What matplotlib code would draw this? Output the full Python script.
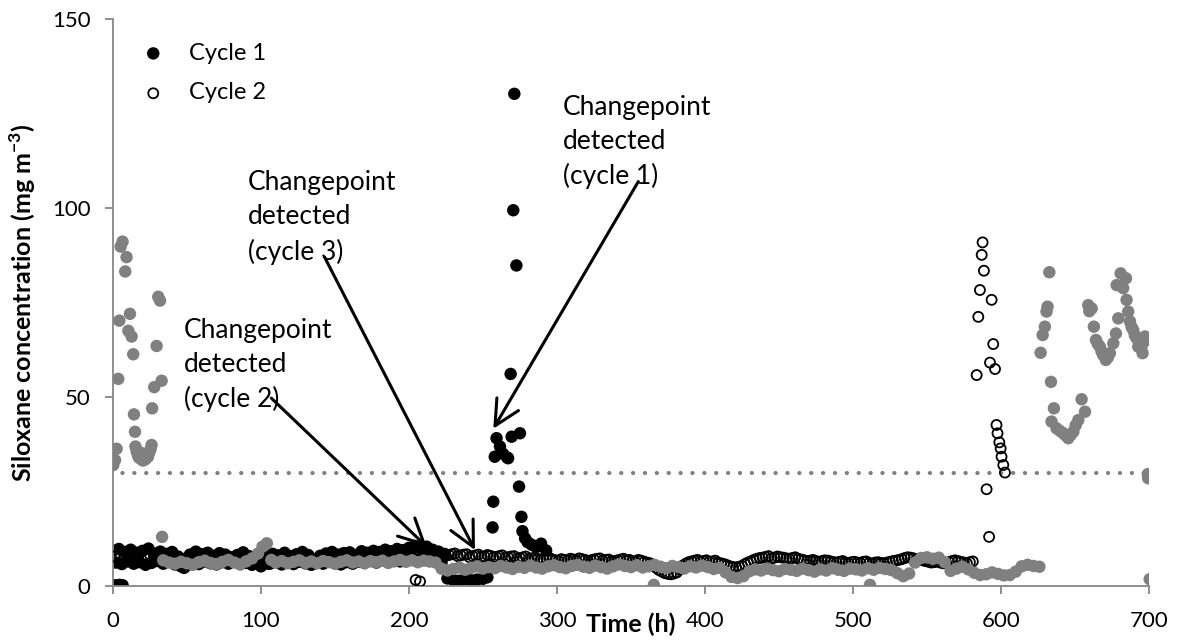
import numpy as np
import matplotlib
matplotlib.use("Agg")
import matplotlib.pyplot as plt

plt.rcParams['font.family'] = ['Lato', 'DejaVu Sans']

# ---- cycle 1 (filled black) ----
c1_t = [0.5, 2.5, 4.5, 6.5,
        0, 4, 8, 12, 16, 20, 24, 28, 32, 36, 40, 44, 48, 52, 56, 60, 64, 68, 72, 76,
        80, 84, 88, 92, 96, 100, 104, 108, 112, 116, 120, 124, 128, 132, 136, 140,
        144, 148, 152, 156, 160, 164, 168, 172, 176, 180, 184, 188, 192, 196, 200,
        204, 208, 212, 216, 220, 224,
        2, 6, 10, 14, 18, 22, 26, 30, 34, 38, 42, 46, 50, 54, 58, 62, 66, 70, 74,
        78, 82, 86, 90, 94, 98, 102, 106, 110, 114, 118, 122, 126, 130, 134, 138,
        142, 146, 150, 154, 158, 162, 166, 170, 174, 178, 182, 186, 190, 194, 198,
        202, 206, 210, 214, 218, 222,
        226, 230, 234, 238, 242, 246, 250, 253,
        256.5, 257.0, 258.0, 259.2, 261.5, 263.5, 266.4, 267.0, 269.4, 275.0,
        268.7, 270.5, 271.2, 272.6,
        274.4, 276.0, 276.7, 278.5, 280.2, 283.0, 285.9, 289.3, 292.7]
c1_y = [0.2, 0.1, 0.3, 0.2,
        9.4, 9.8, 9.0, 9.6, 8.8, 9.3, 9.9, 8.6, 9.1, 8.5, 9.0, 7.8, 4.8, 8.3, 9.1,
        8.4, 8.8, 8.0, 8.7, 8.3, 7.6, 8.2, 8.9, 7.9, 7.4, 5.2, 7.8, 8.5, 8.1, 8.8,
        7.9, 8.4, 9.0, 8.2, 6.0, 8.0, 8.6, 9.0, 8.3, 8.7, 8.9, 8.2, 9.2, 8.8, 9.3,
        9.0, 9.6, 9.2, 9.8, 9.5, 10.1, 10.6, 9.9, 10.4, 9.6, 9.1, 8.5,
        6.2, 5.8, 6.5, 5.9, 6.3, 5.6, 6.1, 6.6, 5.9, 6.4, 5.7, 5.2, 5.5, 6.2, 5.8,
        6.5, 6.0, 5.7, 6.3, 5.9, 6.4, 5.8, 6.1, 5.6, 6.0, 6.6, 5.9, 6.3, 5.7, 6.2,
        5.8, 6.4, 6.0, 5.6, 6.1, 5.9, 6.5, 6.0, 5.7, 6.3, 5.9, 6.4, 6.1, 6.6, 6.2,
        6.8, 6.4, 6.9, 6.5, 7.1, 7.4, 6.8, 7.2, 6.6, 6.9, 6.2,
        2.0, 1.6, 1.4, 1.8, 1.5, 1.7, 1.9, 2.3,
        15.5, 22.3, 34.2, 39.1, 36.9, 35.0, 34.0, 33.8, 39.5, 40.4,
        56.1, 99.4, 130.2, 84.8,
        26.3, 18.3, 14.5, 12.6, 11.6, 10.9, 10.3, 11.2, 9.4]

# ---- cycle 2 (open circles) ----
c2_t = [1, 5, 9, 13, 17, 21, 25, 29, 33, 37, 41, 45, 49, 53, 57, 61, 65, 69, 73,
        77, 81, 85, 89, 93, 97, 101, 105, 109, 113, 117, 121, 125, 129, 133, 137,
        141, 145, 149, 153, 157, 161, 165, 169, 173, 177, 181, 185, 189, 193, 197,
        201, 205, 209, 213, 217, 221, 225, 229, 233, 237, 241, 245, 249, 253, 257,
        261, 265, 269, 273, 277, 281, 285, 289, 293, 297, 301, 305, 309, 313, 317,
        321, 325, 329, 333, 337, 341, 345, 349, 353, 357, 361, 365, 369, 373, 377,
        381, 385, 389, 393, 397, 401, 405, 409, 413, 417, 421, 425, 429, 433, 437,
        441, 445, 449, 453, 457, 461, 465, 469, 473, 477, 481, 485, 489, 493, 497,
        501, 505, 509, 513, 517, 521, 525, 529, 533, 537, 541, 545, 549, 553, 557,
        561, 565, 569, 573, 577, 581,
        227, 231, 235, 239, 243, 247, 251, 255, 259, 263, 267, 271, 275, 279, 283,
        287, 291, 295, 299, 303, 307, 311, 315, 319, 323, 327, 331, 335, 339, 343,
        347, 351, 355, 359, 363, 367, 371, 375, 379, 383, 387, 391, 395, 399, 403,
        407, 411, 415, 419, 423, 427, 431, 435, 439, 443, 447, 451, 455, 459, 463,
        467, 471, 475, 479, 483, 487, 491, 495, 499, 503, 507, 511, 515, 519, 523,
        527, 531, 535, 539, 543, 547, 551, 555, 559, 563, 567, 571, 575, 579,
        204.5, 207.5,
        583.6, 584.7, 585.8, 587.0, 587.6, 588.5, 590.3, 592.0, 592.6, 593.7,
        594.8, 596.0, 597.0, 597.7, 598.9, 599.8, 600.4, 601.6, 602.7]
c2_y = [7.8, 8.2, 7.5, 8.0, 7.2, 7.9, 8.3, 7.6, 7.9, 7.4, 7.8, 6.9, 7.3, 7.7, 7.1,
        7.5, 7.0, 7.6, 7.2, 6.8, 7.4, 7.0, 7.5, 6.9, 7.3, 6.6, 5.8, 7.2, 7.6, 7.0,
        7.4, 6.8, 7.3, 7.7, 7.1, 7.5, 6.9, 7.4, 7.8, 7.2, 7.6, 7.0, 7.5, 7.9, 7.3,
        7.7, 7.2, 7.8, 8.1, 7.5, 7.9, 7.6, 8.3, 7.7, 8.2, 8.6, 8.0, 8.4, 7.9, 8.3,
        7.6, 8.1, 7.7, 8.2, 7.6, 7.9, 7.4, 7.8, 7.2, 7.6, 7.1, 7.5, 6.9, 7.3, 7.0,
        6.6, 6.9, 7.2, 6.8, 7.1, 6.6, 7.0, 7.3, 6.9, 6.5, 6.8, 7.2, 6.9, 6.4, 6.7,
        6.2, 5.6, 4.2, 3.4, 3.1, 3.6, 5.4, 6.3, 6.7, 6.4, 6.8, 6.5, 6.1, 5.8, 5.2,
        4.9, 5.3, 6.2, 6.9, 7.4, 7.7, 7.3, 7.8, 7.5, 7.2, 7.6, 7.0, 6.6, 6.9, 6.4,
        6.8, 6.5, 6.2, 6.6, 6.0, 6.4, 6.1, 6.5, 5.9, 6.3, 6.0, 6.4, 6.7, 7.1, 7.6,
        7.3, 6.9, 6.6, 6.2, 6.5, 6.0, 6.3, 6.8, 6.4, 6.0, 6.5,
        8.2, 8.6, 8.1, 8.4, 7.9, 8.3, 7.8, 8.0, 7.7, 8.1, 7.6, 7.9, 7.4, 7.8, 7.3,
        7.2, 7.1, 7.4, 6.8, 7.1, 6.7, 7.0, 7.3, 6.9, 6.8, 7.2, 6.7, 7.0, 6.6, 7.0,
        6.7, 6.6, 6.9, 6.4, 6.0, 4.8, 3.8, 3.2, 3.3, 4.4, 5.9, 6.5, 6.9, 6.6, 6.4,
        6.7, 6.0, 5.5, 5.0, 5.1, 5.8, 6.5, 7.2, 7.5, 7.9, 7.5, 7.6, 7.3, 7.4, 7.2,
        6.8, 6.7, 6.6, 6.6, 6.7, 6.3, 6.4, 6.2, 6.3, 6.2, 6.4, 6.1, 6.2, 6.1, 6.2,
        6.6, 6.9, 7.4, 7.5, 7.1, 6.8, 6.4, 6.3, 6.2, 6.1, 6.6, 6.6, 6.2, 6.3,
        1.6, 1.2,
        55.8, 71.2, 78.3, 87.6, 90.9, 83.4, 25.6, 13.0, 59.1, 75.7,
        64.0, 57.4, 42.6, 40.4, 38.0, 36.4, 34.2, 32.0, 30.0]

# ---- cycle 3 (grey) ----
c3_t = [0.2, 1.4, 2.5, 3.6, 4.3, 5.2, 6.5, 8.3, 9.2, 10.4, 11.5, 12.6, 13.7, 14.2,
        14.9, 15.2, 16.0, 16.9, 17.7, 18.5, 19.3, 20.2, 21.0, 21.9, 22.8, 23.7,
        24.6, 25.4, 26.1, 26.5, 27.9, 29.5, 30.6, 31.8, 32.9, 33.2,
        34, 38, 42, 46, 50, 54, 58, 62, 66, 70, 74, 78, 82, 86, 90, 94, 98, 101,
        104, 107, 110, 114, 118, 122, 126, 130, 134, 138, 142, 146, 150, 154, 158,
        162, 166, 170, 174, 178, 182, 186, 190, 194, 198, 202, 206, 210, 214, 218,
        222, 226, 230, 234, 238, 242, 246, 250, 254, 258, 262, 266, 270, 274, 278,
        282, 286, 290, 294, 298, 302, 306, 310, 314, 318, 322, 326, 330, 334, 338,
        342, 346, 350, 354, 358, 362, 366, 370, 374, 378, 382, 386, 390, 394, 398,
        402, 406, 410, 414, 418, 422, 426, 430, 434, 438, 442, 446, 450, 454, 458,
        462, 466, 470, 474, 478, 482, 486, 490, 494, 498, 502, 506, 510, 514, 518,
        522, 526, 530, 534, 538, 542, 546, 550, 554, 558, 562, 566, 570, 574, 578,
        582, 586, 590, 594, 598, 602, 606, 610, 614, 618, 622, 626,
        365.5, 511.5,
        626.8, 628.2, 629.7, 630.8, 631.5, 632.7, 633.8, 634.2, 635.8, 637.6,
        640.0, 642.1, 643.8, 645.5, 647.2, 648.9, 650.5, 652.3, 654.5, 656.8,
        659.0, 659.7, 661.3, 662.8, 664.2, 665.5, 666.9, 668.0, 669.1, 670.9,
        672.3, 673.6, 675.9, 677.7, 678.2, 679.3, 680.9, 682.6, 684.5, 684.9,
        686.0, 687.2, 688.3, 689.4, 690.5, 691.7, 692.8, 695.0, 695.7, 697.3,
        697.6, 699.3, 699.5, 700.5]
c3_y = [32.0, 33.3, 36.3, 54.8, 70.2, 89.8, 91.1, 83.2, 87.0, 67.5, 72.0, 66.0,
        61.3, 45.4, 40.8, 36.9, 35.6, 34.5, 33.9, 35.3, 33.6, 33.2, 34.1, 33.5,
        34.6, 34.2, 35.4, 36.2, 37.3, 47.0, 52.6, 63.5, 76.5, 75.5, 54.3, 13.0,
        6.8, 6.2, 5.9, 6.4, 6.0, 5.6, 6.3, 6.7, 6.1, 5.8, 6.4, 6.9, 6.2, 5.7, 6.5,
        7.3, 8.6, 10.4, 11.3, 6.9, 6.2, 6.6, 6.0, 6.4, 6.8, 6.1, 6.5, 6.0, 6.6, 6.3,
        5.9, 6.4, 6.8, 6.2, 6.5, 6.0, 6.6, 6.3, 6.7, 6.1, 6.5, 6.9, 6.4, 6.8, 6.3,
        6.7, 6.5, 6.2, 4.6, 4.1, 4.5, 4.9, 4.3, 4.8, 5.2, 4.6, 5.0, 4.7, 5.3, 4.9,
        4.5, 5.1, 4.8, 5.4, 4.9, 4.6, 5.2, 5.5, 5.0, 4.7, 5.3, 5.6, 5.1, 4.8, 5.4,
        5.0, 4.6, 5.2, 5.7, 5.3, 5.0, 5.5, 4.9, 5.2, 5.6, 5.1, 4.7, 5.3, 5.0, 4.6,
        5.2, 4.9, 5.4, 5.0, 4.5, 4.8, 3.6, 2.4, 2.1, 2.6, 3.9, 4.4, 4.1, 4.6, 4.2,
        3.9, 4.5, 4.3, 4.0, 4.6, 4.2, 3.8, 4.4, 4.1, 4.7, 4.3, 4.0, 4.6, 4.4, 4.1,
        4.7, 4.3, 4.8, 4.5, 4.2, 3.4, 2.6, 3.3, 6.2, 7.4, 7.6, 7.2, 7.5, 6.3, 4.0,
        4.6, 5.1, 4.4, 3.5, 2.9, 3.1, 3.6, 3.2, 2.8, 2.9, 3.8, 5.2, 5.6, 5.3, 5.1,
        0.3, 0.3,
        61.7, 66.4, 68.6, 72.6, 73.9, 83.0, 54.0, 43.5, 47.0, 41.7,
        41.0, 40.4, 39.8, 39.1, 40.0, 40.8, 42.5, 43.9, 49.4, 46.1,
        74.3, 72.7, 73.4, 68.6, 65.1, 64.0, 63.3, 62.0, 61.1, 59.8,
        60.5, 61.6, 64.2, 66.8, 79.6, 70.8, 82.7, 78.8, 81.4, 75.7,
        72.6, 70.0, 68.5, 67.7, 66.3, 65.5, 63.3, 63.3, 61.6, 66.0,
        64.9, 29.6, 28.5, 1.8]

threshold = 30
threshold_t = [0, 700]

# changepoint arrows: (label, text anchor, arrow tail, arrow head)
notes = [
    ("Changepoint\ndetected\n(cycle 1)", (304, 130), (355, 107), (257, 41.6)),
    ("Changepoint\ndetected\n(cycle 3)", (91, 110), (143, 87), (244.6, 9.5)),
    ("Changepoint\ndetected\n(cycle 2)", (48, 71), (107, 49.7), (212, 10.4)),
]

fig = plt.figure(figsize=(11.79, 6.41), dpi=100)
ax = fig.add_axes([0.0958, 0.0858, 0.8787, 0.8846])

grey = '#808080'
axis_grey = '#868686'

ax.plot(threshold_t, [threshold, threshold], color=grey, lw=3.0,
        linestyle=(0.6, (0.05, 2.8)), dash_capstyle='round', zorder=1)

ax.scatter(c1_t, c1_y, s=80, color='black', edgecolors='none', label='Cycle 1', zorder=2)
ax.scatter(c2_t, c2_y, s=52, facecolors='none', edgecolors='black', linewidths=1.3,
           label='Cycle 2', zorder=3)
ax.scatter(c3_t, c3_y, s=80, color=grey, edgecolors='none', zorder=4)

for label, txt, tail, head in notes:
    ax.text(txt[0], txt[1], label, fontsize=19, va='top', ha='left',
            linespacing=1.45, zorder=5)
    ax.annotate('', xy=head, xytext=tail,
                arrowprops=dict(arrowstyle='->,head_length=0.9,head_width=0.45',
                                color='black', lw=2.2, shrinkA=0, shrinkB=0,
                                mutation_scale=20),
                zorder=6)

ax.set_xlim(0, 700)
ax.set_ylim(0, 150)
ax.set_xticks([0, 100, 200, 300, 400, 500, 600, 700])
ax.set_yticks([0, 50, 100, 150])

for side in ['top', 'right']:
    ax.spines[side].set_visible(False)
for side in ['left', 'bottom']:
    ax.spines[side].set_color(axis_grey)
    ax.spines[side].set_linewidth(1.3)
ax.tick_params(axis='both', direction='out', length=6, width=1.3, color=axis_grey,
               labelsize=16)
ax.tick_params(axis='x', pad=12)
ax.tick_params(axis='y', pad=10)

ax.set_xlabel('Time (h)', fontsize=18, fontweight='bold')
ax.xaxis.set_label_coords(0.5, -0.047)
ax.set_ylabel('Siloxane concentration (mg m$^{\\mathregular{-3}}$)', fontsize=18,
              fontweight='bold')
ax.yaxis.set_label_coords(-0.072, 0.5)

ax.legend(loc='upper left', bbox_to_anchor=(0.007, 0.975), frameon=False,
          fontsize=17, handletextpad=0.5, labelspacing=0.8, borderaxespad=0)

fig.savefig('out.png', dpi=100)
